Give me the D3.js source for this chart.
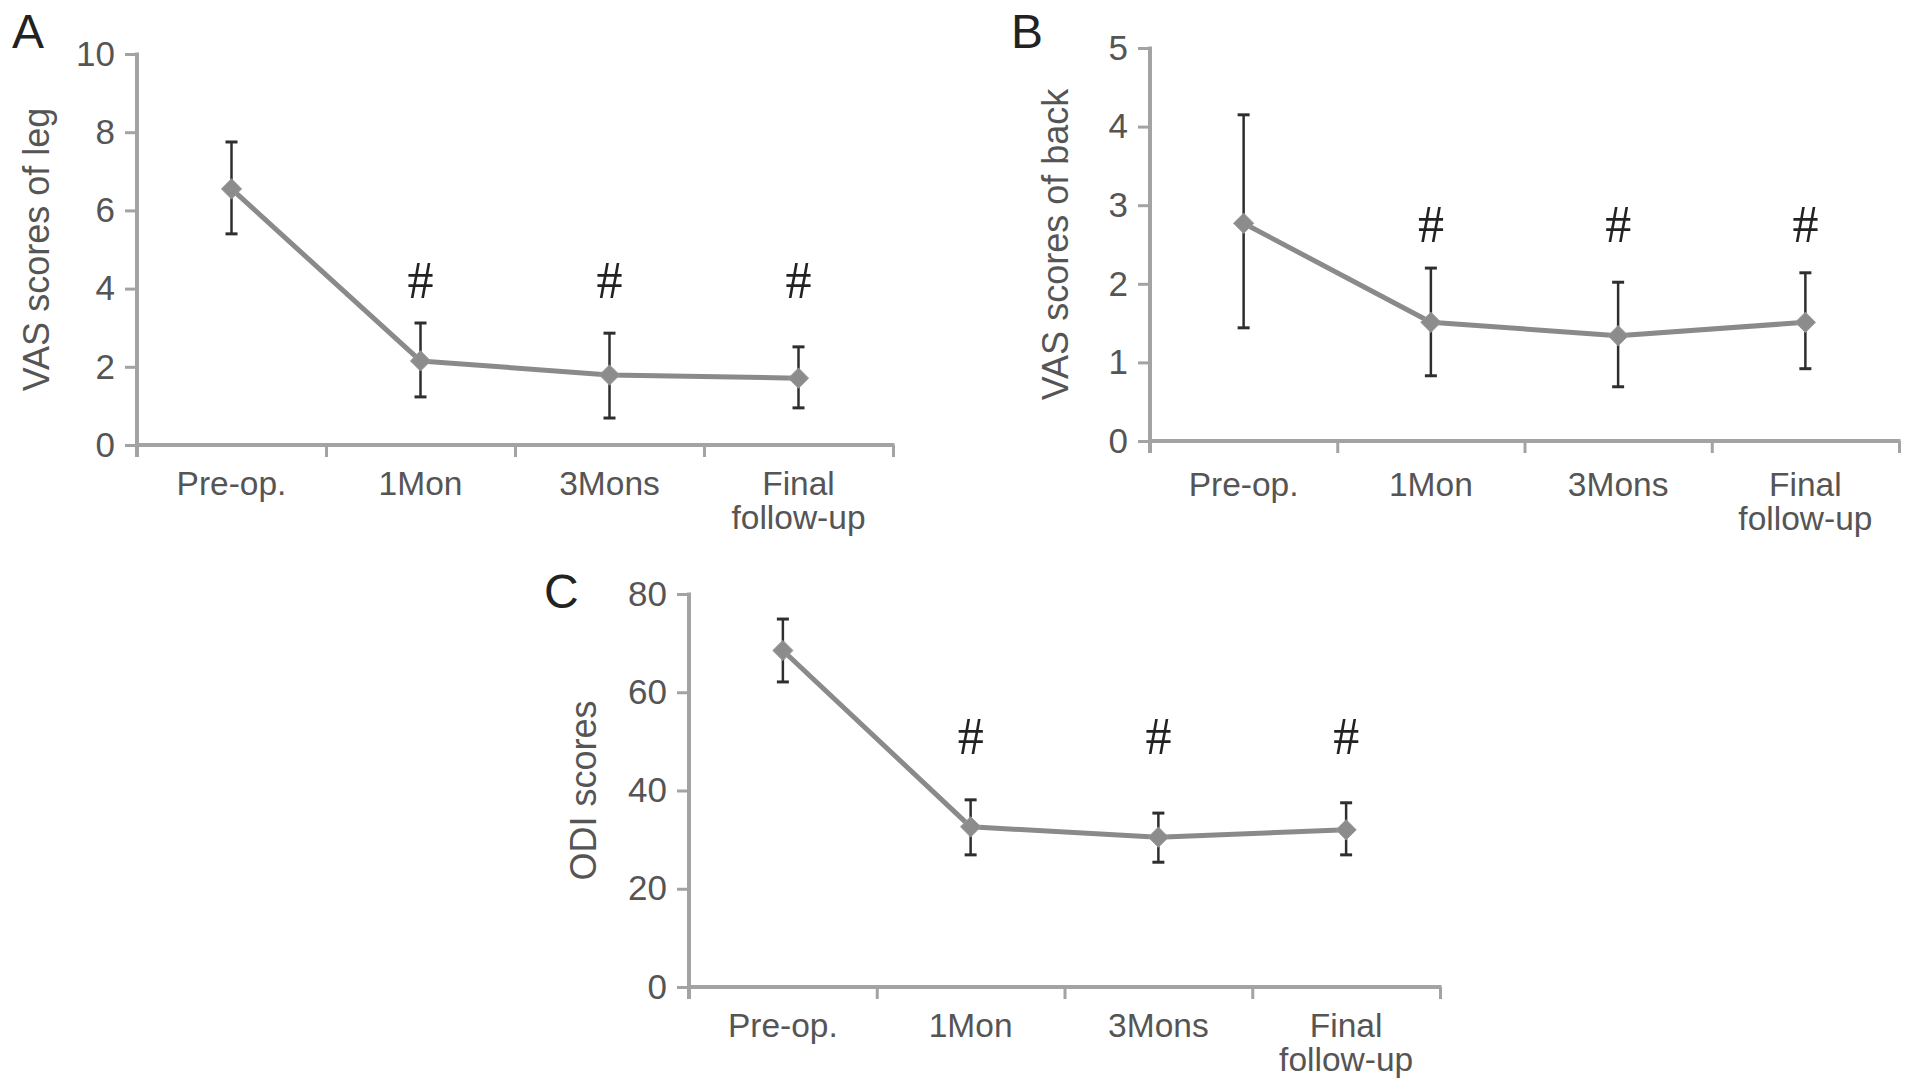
<!DOCTYPE html>
<html>
<head>
<meta charset="utf-8">
<script src="https://cdn.jsdelivr.net/npm/d3@7"></script>
<style>
  html, body { margin: 0; padding: 0; background: #fff; }
  svg { display: block; }
</style>
</head>
<body>
<svg id="chart" width="1913" height="1092"></svg>
<script>
// ---------- data ----------
const categories = ["Pre-op.", "1Mon", "3Mons", "Final follow-up"];
const categoryLines = [["Pre-op."], ["1Mon"], ["3Mons"], ["Final", "follow-up"]];
const sigMarks = ["", "#", "#", "#"];

const legMean = [6.55, 2.15, 1.79, 1.71];
const legLow  = [5.40, 1.23, 0.69, 0.95];
const legHigh = [7.75, 3.12, 2.86, 2.51];
const legSigY = 4.2;
const legTicks = [0, 2, 4, 6, 8, 10];

const backMean = [2.77, 1.51, 1.34, 1.51];
const backLow  = [1.44, 0.83, 0.69, 0.92];
const backHigh = [4.15, 2.20, 2.02, 2.14];
const backSigY = 2.75;
const backTicks = [0, 1, 2, 3, 4, 5];

const odiMean = [68.5, 32.6, 30.5, 32.0];
const odiLow  = [62.1, 26.9, 25.4, 26.9];
const odiHigh = [74.9, 38.1, 35.4, 37.5];
const odiSigY = 51;
const odiTicks = [0, 20, 40, 60, 80];

// ---------- layout ----------
const panels = [
  { letter: "A", title: "VAS scores of leg", mean: legMean, low: legLow, high: legHigh, sigY: legSigY, ticks: legTicks,
    left: 137, right: 893, top: 54, bottom: 445, letterX: 12, letterY: 48, titleOff: 101, labelOff: 50 },
  { letter: "B", title: "VAS scores of back", mean: backMean, low: backLow, high: backHigh, sigY: backSigY, ticks: backTicks,
    left: 1150, right: 1899, top: 48, bottom: 441, letterX: 1011, letterY: 48, titleOff: 95, labelOff: 55 },
  { letter: "C", title: "ODI scores", mean: odiMean, low: odiLow, high: odiHigh, sigY: odiSigY, ticks: odiTicks,
    left: 689, right: 1440, top: 594, bottom: 987, letterX: 544, letterY: 608, titleOff: 106, labelOff: 50 }
];

const svg = d3.select("#chart");
const axisColor = "#a3a3a3";
const textColor = "#555";
const fontSans = "'Liberation Sans', Arial, sans-serif";

panels.forEach(p => {
  const g = svg.append("g");
  const x = d3.scaleBand().domain(categories).range([p.left, p.right]).padding(0);
  const xb = d3.scaleLinear().domain([0, categories.length]).range([p.left, p.right]);
  const y = d3.scaleLinear().domain([0, d3.max(p.ticks)]).range([p.bottom, p.top]);
  const cx = c => x(c) + x.bandwidth() / 2;

  // y axis
  const ya = g.append("g").attr("transform", `translate(${p.left},0)`)
    .call(d3.axisLeft(y).tickValues(p.ticks).tickSize(12).tickPadding(10).tickFormat(d3.format("d")));
  ya.select(".domain").remove();
  ya.selectAll(".tick line").attr("stroke", axisColor).attr("stroke-width", 3);
  ya.selectAll(".tick text").attr("fill", textColor).style("font-family", fontSans).style("font-size", "35px");
  g.append("line").attr("x1", p.left).attr("x2", p.left).attr("y1", y(d3.max(p.ticks)) - 1.5).attr("y2", p.bottom + 12)
    .attr("stroke", axisColor).attr("stroke-width", 4);

  // x axis
  const xa = g.append("g").attr("transform", `translate(0,${p.bottom})`)
    .call(d3.axisBottom(xb).tickValues(d3.range(categories.length + 1)).tickSize(12).tickFormat(""));
  xa.select(".domain").remove();
  xa.selectAll(".tick line").attr("stroke", axisColor).attr("stroke-width", 3);
  g.append("line").attr("x1", p.left).attr("x2", p.right + 1.5).attr("y1", p.bottom).attr("y2", p.bottom)
    .attr("stroke", axisColor).attr("stroke-width", 4);

  // x labels
  categories.forEach((c, i) => {
    const t = g.append("text").attr("x", cx(c)).attr("y", p.bottom + p.labelOff)
      .attr("text-anchor", "middle").attr("fill", textColor)
      .style("font-family", fontSans).style("font-size", "33.5px");
    categoryLines[i].forEach((ln, j) => {
      t.append("tspan").attr("x", cx(c)).attr("dy", j === 0 ? 0 : 34).text(ln);
    });
  });

  // y title
  const midY = (p.top + p.bottom) / 2;
  g.append("text").attr("transform", `translate(${p.left - p.titleOff},${midY}) rotate(-90)`)
    .attr("text-anchor", "middle").attr("dominant-baseline", "central")
    .attr("fill", textColor).style("font-family", fontSans).style("font-size", "36px")
    .text(p.title);

  // panel letter
  g.append("text").attr("x", p.letterX).attr("y", p.letterY).attr("fill", "#222")
    .style("font-family", fontSans).style("font-size", "48px").text(p.letter);

  // line
  const line = d3.line().x((d, i) => cx(categories[i])).y(d => y(d));
  g.append("path").datum(p.mean).attr("d", line).attr("fill", "none")
    .attr("stroke", "#8a8a8a").attr("stroke-width", 5).attr("stroke-linejoin", "round");

  // error bars
  const eb = g.append("g").attr("stroke", "#2e2e2e").attr("stroke-width", 2.5);
  categories.forEach((c, i) => {
    eb.append("line").attr("x1", cx(c)).attr("x2", cx(c)).attr("y1", y(p.low[i])).attr("y2", y(p.high[i]));
    [p.low[i], p.high[i]].forEach(v => {
      eb.append("line").attr("x1", cx(c) - 6).attr("x2", cx(c) + 6).attr("y1", y(v)).attr("y2", y(v)).attr("stroke-width", 3);
    });
  });

  // markers (diamonds)
  const diamond = d3.symbol().type(d3.symbolDiamond2).size(260);
  g.selectAll(".pt").data(p.mean).enter().append("path")
    .attr("transform", (d, i) => `translate(${cx(categories[i])},${y(d)})`)
    .attr("d", diamond).attr("fill", "#8c8c8c").attr("stroke", "#9a9a9a").attr("stroke-width", 1);

  // significance marks
  categories.forEach((c, i) => {
    if (!sigMarks[i]) return;
    g.append("text").attr("x", cx(c)).attr("y", y(p.sigY))
      .attr("text-anchor", "middle").attr("dominant-baseline", "central")
      .attr("fill", "#222").style("font-family", "'Liberation Serif', 'DejaVu Serif', serif").style("font-size", "52px")
      .text(sigMarks[i]);
  });
});
</script>
</body>
</html>
